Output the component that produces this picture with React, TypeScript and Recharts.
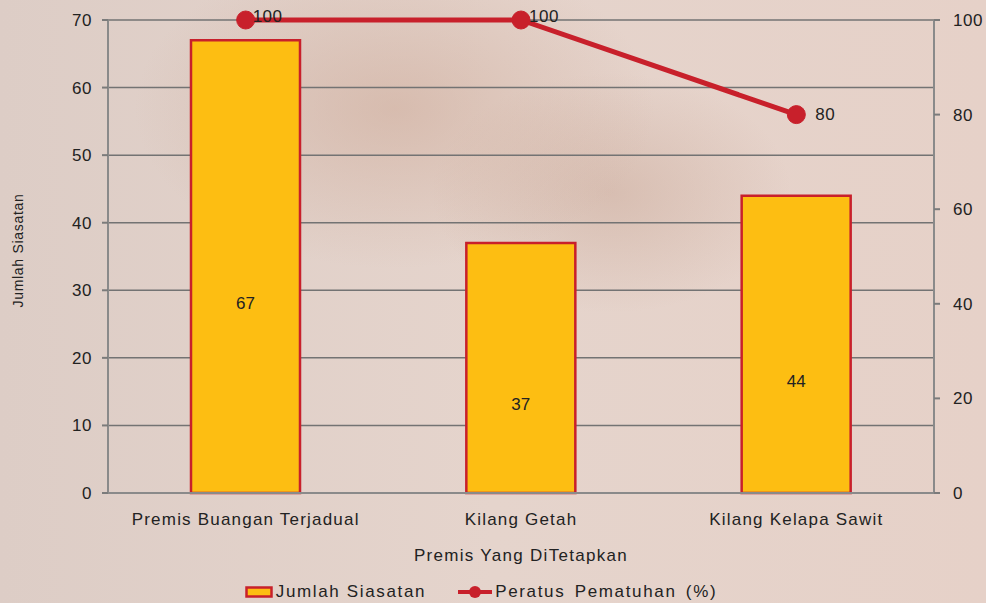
import {
  ComposedChart,
  Bar,
  Line,
  XAxis,
  YAxis,
  CartesianGrid,
  LabelList,
  Legend,
} from 'recharts';

const categories = ['Premis Buangan  Terjadual', 'Kilang Getah', 'Kilang Kelapa Sawit'];
const jumlahSiasatan = [67, 37, 44];
const peratusPematuhan = [100, 100, 80];
const leftTicks = [0, 10, 20, 30, 40, 50, 60, 70];
const rightTicks = [0, 20, 40, 60, 80, 100];

const data = categories.map((c, i) => ({
  name: c,
  jumlah: jumlahSiasatan[i],
  peratus: peratusPematuhan[i],
  pos: i + 0.5,
}));

const FONT = '"Liberation Sans", Arial, sans-serif';
const RED = '#c8202b';
const YELLOW = '#fdbe12';
const TEXT = '#222';

// label nudges for the line values (styling only)
const lineLabelDx = [7, 8, 19];
const lineLabelDy = [-4, -4, 0];

function LineLabel(props: any) {
  const { x, y, value, index } = props;
  return (
    <text x={x + lineLabelDx[index]} y={y + lineLabelDy[index]} fill={TEXT} fontSize={17} dominantBaseline="central" style={{ letterSpacing: 0.5 }}>
      {value}
    </text>
  );
}

function BarLabel(props: any) {
  const { x, y, width, height, value } = props;
  return (
    <text x={x + width / 2} y={y + height / 2 + 37} fill={TEXT} fontSize={17} textAnchor="middle" dominantBaseline="central">
      {value}
    </text>
  );
}

function LegendBox() {
  return (
    <div
      style={{
        display: 'flex',
        justifyContent: 'center',
        alignItems: 'center',
        fontFamily: FONT,
        fontSize: 17,
        letterSpacing: 1.65,
        color: TEXT,
        marginLeft: -24,
        marginTop: 2,
        lineHeight: '22px',
      }}
    >
      <svg width={28} height={14} style={{ marginRight: 3 }}>
        <rect x={1.5} y={2.5} width={25} height={9} fill={YELLOW} stroke={RED} strokeWidth={2.5} />
      </svg>
      <span style={{ marginRight: 32 }}>Jumlah Siasatan</span>
      <svg width={34} height={14} style={{ marginRight: 3 }}>
        <line x1={0} y1={7} x2={34} y2={7} stroke={RED} strokeWidth={4} />
        <circle cx={17} cy={7} r={6} fill={RED} />
      </svg>
      <span style={{ wordSpacing: 3 }}>Peratus Pematuhan (%)</span>
    </div>
  );
}

export default function App() {
  return (
    <div
      style={{
        position: 'fixed',
        left: 0,
        top: 0,
        width: 986,
        height: 603,
        background:
          'radial-gradient(ellipse 260px 160px at 40% 18%, rgba(200,160,140,0.45) 0%, rgba(0,0,0,0) 100%), radial-gradient(ellipse 180px 120px at 62% 32%, rgba(190,150,130,0.35) 0%, rgba(0,0,0,0) 100%), linear-gradient(90deg, #ddcdc6 0%, #e5d4cc 50%, #e6d1c8 100%)',
      }}
    >
      <ComposedChart
        width={986}
        height={603}
        data={data}
        margin={{ top: 20, right: 0, left: 0, bottom: 0 }}
        style={{ fontFamily: FONT }}
      >
        <CartesianGrid vertical={false} stroke="#737373" strokeWidth={1.5} yAxisId="left" />
        <XAxis
          dataKey="name"
          xAxisId="cat"
          axisLine={false}
          tickLine={false}
          tick={{ fill: TEXT, fontSize: 17, style: { letterSpacing: 1.2 } }}
          tickMargin={13}
          height={85}
          interval={0}
          label={{ value: 'Premis Yang DiTetapkan', position: 'insideBottom', offset: 18, fill: TEXT, fontSize: 17, style: { letterSpacing: 1.3 } }}
        />
        <XAxis
          xAxisId="a"
          type="number"
          dataKey="pos"
          domain={[0, 3]}
          ticks={[1, 2]}
          axisLine={{ stroke: '#8a8a8a', strokeWidth: 2 }}
          tick={false}
          tickLine={{ stroke: '#7b7b7b', strokeWidth: 2 }}
          tickSize={7}
          height={1}
        />
        <YAxis
          yAxisId="left"
          domain={[0, 70]}
          ticks={leftTicks}
          width={108}
          axisLine={{ stroke: '#8a8a8a', strokeWidth: 2 }}
          tickLine={{ stroke: '#7b7b7b', strokeWidth: 2 }}
          tickSize={6}
          tick={{ fill: TEXT, fontSize: 17, style: { letterSpacing: 0.5 } }}
          tickMargin={10}
          label={{ value: 'Jumlah Siasatan', angle: -90, position: 'insideLeft', offset: 18, dy: -6, fill: TEXT, fontSize: 14, style: { textAnchor: 'middle', letterSpacing: 0.7 } }}
        />
        <YAxis
          yAxisId="right"
          orientation="right"
          domain={[0, 100]}
          ticks={rightTicks}
          width={52}
          axisLine={{ stroke: '#8a8a8a', strokeWidth: 2 }}
          tickLine={{ stroke: '#7b7b7b', strokeWidth: 2 }}
          tickSize={6}
          tick={{ fill: TEXT, fontSize: 17, style: { letterSpacing: 0.5 } }}
          tickMargin={13}
        />
        <Bar
          dataKey="jumlah"
          xAxisId="cat"
          yAxisId="left"
          fill={YELLOW}
          stroke={RED}
          strokeWidth={2.5}
          barSize={109}
          isAnimationActive={false}
        >
          <LabelList dataKey="jumlah" content={<BarLabel />} />
        </Bar>
        <Line
          dataKey="peratus"
          xAxisId="cat"
          yAxisId="right"
          stroke={RED}
          strokeWidth={5}
          dot={{ r: 9, fill: RED, stroke: RED, strokeWidth: 1 }}
          isAnimationActive={false}
        >
          <LabelList dataKey="peratus" content={<LineLabel />} />
        </Line>
        <Legend verticalAlign="bottom" content={<LegendBox />} />
      </ComposedChart>
    </div>
  );
}
